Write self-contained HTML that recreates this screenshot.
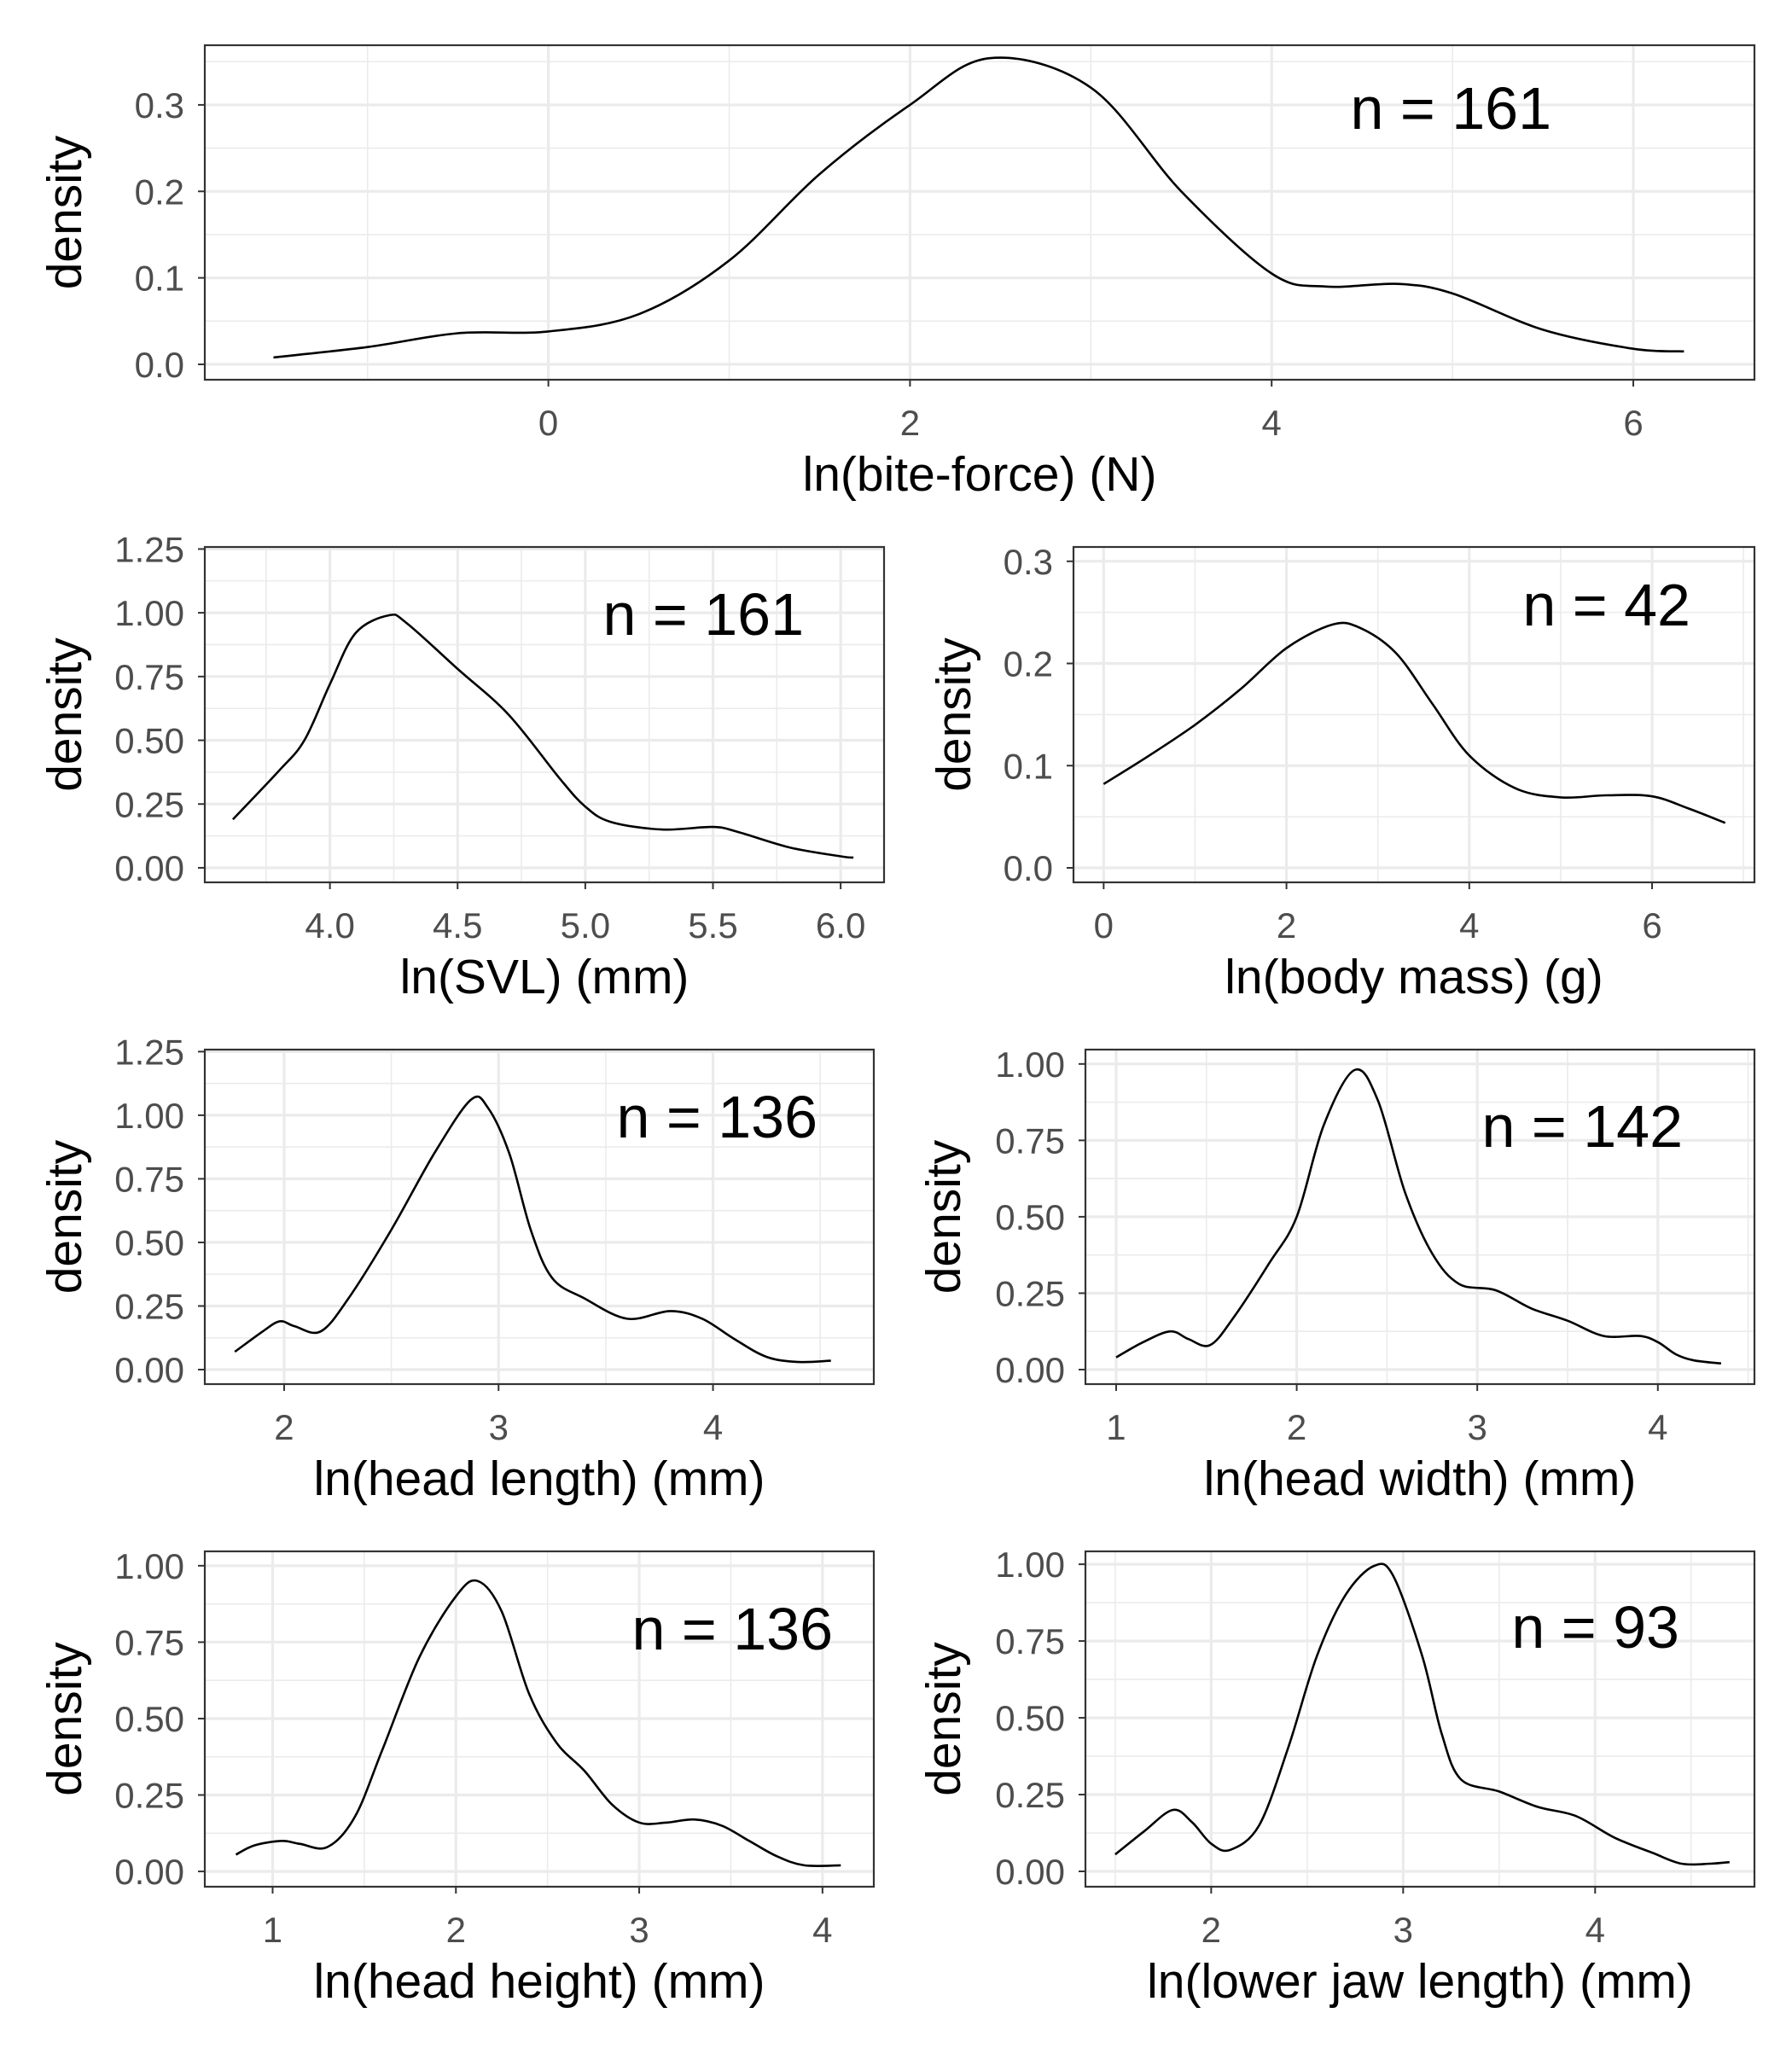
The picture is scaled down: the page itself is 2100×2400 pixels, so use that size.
<!DOCTYPE html>
<html><head><meta charset="utf-8"><style>
html,body{margin:0;padding:0;background:#fff;}
svg{display:block;font-family:"Liberation Sans",sans-serif;}
</style></head><body>
<svg id="fig" width="2100" height="2400" viewBox="0 0 2100 2400" xmlns="http://www.w3.org/2000/svg"></svg>
<script>
// ---- data ----
const biteX = [-1.52,-1,-0.5,0,0.5,1,1.5,2,2.44,3,3.5,4,4.3,4.7,5,5.5,6,6.28];
const biteY = [0.008,0.02,0.036,0.038,0.058,0.12,0.22,0.30,0.354,0.32,0.2,0.105,0.09,0.093,0.082,0.04,0.018,0.015];
const svlX = [3.62,3.8,3.9,4.0,4.1,4.23,4.3,4.5,4.7,4.9,5.0,5.1,5.3,5.5,5.6,5.8,6.0,6.05];
const svlY = [0.19,0.38,0.5,0.72,0.92,0.99,0.96,0.78,0.6,0.35,0.24,0.18,0.15,0.16,0.14,0.08,0.045,0.04];
const massX = [0,0.5,1,1.5,2,2.5,2.8,3.2,3.6,4,4.5,5,5.5,6,6.4,6.8];
const massY = [0.082,0.11,0.14,0.175,0.215,0.238,0.235,0.21,0.16,0.11,0.078,0.069,0.071,0.07,0.058,0.044];
const hlX = [1.77,1.9,1.98,2.05,2.17,2.3,2.5,2.7,2.87,2.95,3.05,3.15,3.25,3.4,3.6,3.8,3.95,4.1,4.25,4.4,4.55];
const hlY = [0.07,0.15,0.19,0.17,0.15,0.28,0.55,0.85,1.06,1.03,0.85,0.55,0.36,0.28,0.2,0.23,0.2,0.12,0.05,0.03,0.035];
const hwX = [1.0,1.15,1.3,1.4,1.52,1.65,1.85,2.0,2.15,2.32,2.45,2.6,2.75,2.9,3.1,3.3,3.5,3.7,3.9,4.0,4.1,4.2,4.35];
const hwY = [0.04,0.09,0.125,0.10,0.08,0.17,0.35,0.5,0.8,0.98,0.88,0.58,0.38,0.28,0.26,0.2,0.16,0.11,0.11,0.09,0.05,0.03,0.02];
const hhX = [0.8,0.9,1.05,1.15,1.3,1.45,1.6,1.8,2.0,2.12,2.25,2.4,2.55,2.7,2.85,3.0,3.15,3.3,3.45,3.6,3.75,3.9,4.1];
const hhY = [0.055,0.085,0.10,0.09,0.08,0.18,0.4,0.7,0.9,0.95,0.85,0.58,0.42,0.33,0.22,0.16,0.16,0.17,0.15,0.1,0.05,0.02,0.02];
const jawX = [1.5,1.65,1.8,1.9,2.0,2.1,2.25,2.4,2.55,2.7,2.85,2.95,3.1,3.2,3.3,3.5,3.7,3.9,4.1,4.3,4.45,4.6,4.7];
const jawY = [0.055,0.13,0.2,0.16,0.09,0.07,0.15,0.4,0.7,0.9,0.995,0.96,0.7,0.45,0.3,0.26,0.21,0.18,0.11,0.06,0.025,0.025,0.03];
const xTicks1 = [0,2,4,6], yTicks1 = [0,0.1,0.2,0.3];
const xTicks2 = [4.0,4.5,5.0,5.5,6.0], yTicks2 = [0,0.25,0.5,0.75,1,1.25];
const xTicks3 = [0,2,4,6], yTicks3 = [0,0.1,0.2,0.3];
const xTicks4 = [2,3,4], yTicks4 = [0,0.25,0.5,0.75,1,1.25];
const xTicks5 = [1,2,3,4], yTicks5 = [0,0.25,0.5,0.75,1];
const xTicks6 = [1,2,3,4], yTicks6 = [0,0.25,0.5,0.75,1];
const xTicks7 = [2,3,4], yTicks7 = [0,0.25,0.5,0.75,1];

const NS = "http://www.w3.org/2000/svg";
const svg = document.getElementById("fig");
function mk(tag, attrs, parent){const e=document.createElementNS(NS,tag);for(const k in attrs)e.setAttribute(k,attrs[k]);(parent||svg).appendChild(e);return e;}

function smoothPath(pts){
  let d = "M"+pts[0][0].toFixed(1)+","+pts[0][1].toFixed(1);
  for(let i=0;i<pts.length-1;i++){
    const p0=pts[Math.max(0,i-1)], p1=pts[i], p2=pts[i+1], p3=pts[Math.min(pts.length-1,i+2)];
    const c1x=p1[0]+(p2[0]-p0[0])/6, c1y=p1[1]+(p2[1]-p0[1])/6;
    const c2x=p2[0]-(p3[0]-p1[0])/6, c2y=p2[1]-(p3[1]-p1[1])/6;
    d += "C"+c1x.toFixed(1)+","+c1y.toFixed(1)+" "+c2x.toFixed(1)+","+c2y.toFixed(1)+" "+p2[0].toFixed(1)+","+p2[1].toFixed(1);
  }
  return d;
}

function panel(cfg){
  const g = mk("g",{});
  
  
  const {L,R,T,B,xmin,xmax,ymin,ymax} = cfg;
  const sx = v => L + (v-xmin)/(xmax-xmin)*(R-L);
  const sy = v => B - (v-ymin)/(ymax-ymin)*(B-T);
  const yfmt = cfg.yfmt, xfmt = cfg.xfmt;
  const dx = cfg.xt[1]-cfg.xt[0], dy = cfg.yt[1]-cfg.yt[0];
  for(let v=cfg.xt[0]-dx/2; v<=xmax; v+=dx){ if(v>=xmin){ const l=mk("line",{x1:sx(v),x2:sx(v),y1:T,y2:B,stroke:"#EBEBEB","stroke-width":1.6},g);  } }
  for(let v=cfg.yt[0]-dy/2; v<=ymax; v+=dy){ if(v>=ymin){ const l=mk("line",{x1:L,x2:R,y1:sy(v),y2:sy(v),stroke:"#EBEBEB","stroke-width":1.6},g);  } }
  cfg.xt.forEach(v=>{ const l=mk("line",{x1:sx(v),x2:sx(v),y1:T,y2:B,stroke:"#EBEBEB","stroke-width":3.2},g);  
    const t=mk("line",{x1:sx(v),x2:sx(v),y1:B,y2:B+8,stroke:"#333","stroke-width":2},g);  
    const tx=mk("text",{x:sx(v),y:B+65,"font-size":42,fill:"#4D4D4D","text-anchor":"middle"},g); tx.textContent=xfmt(v);  });
  cfg.yt.forEach(v=>{ const l=mk("line",{x1:L,x2:R,y1:sy(v),y2:sy(v),stroke:"#EBEBEB","stroke-width":3.2},g);  
    const t=mk("line",{x1:L-8,x2:L,y1:sy(v),y2:sy(v),stroke:"#333","stroke-width":2},g);  
    const tx=mk("text",{x:L-24,y:sy(v)+15,"font-size":42,fill:"#4D4D4D","text-anchor":"end"},g); tx.textContent=yfmt(v);  });
  const pts = cfg.xs.map((x,i)=>[sx(x), sy(cfg.ys[i])]);
  const p = mk("path",{d:smoothPath(pts),fill:"none",stroke:"#000","stroke-width":2.6,"stroke-linejoin":"round"},g);
  
  
  const r = mk("rect",{x:L,y:T,width:R-L,height:B-T,fill:"none",stroke:"#333","stroke-width":2.2},g);
  
  
  const xt = mk("text",{x:(L+R)/2,y:B+130,"font-size":57,fill:"#000","text-anchor":"middle"},g);
  xt.textContent = cfg.xlab;
  
  
  const yt = mk("text",{x:0,y:0,"font-size":57,fill:"#000","text-anchor":"middle",transform:`translate(${cfg.ylx},${(T+B)/2}) rotate(-90)`},g);
  yt.textContent = "density";
  
  
  const nt = mk("text",{x:cfg.nx,y:cfg.ny,"font-size":70,fill:"#000","text-anchor":"end"},g);
  nt.textContent = cfg.n;
  
  
}
const f1 = v=>v.toFixed(1), f2=v=>v.toFixed(2), f0=v=>String(v);
panel({name:"bite-force-panel",L:240,R:2056,T:53,B:445,xmin:-1.9,xmax:6.67,ymin:-0.0178,ymax:0.369,xt:xTicks1,yt:yTicks1,xs:biteX,ys:biteY,xfmt:f0,yfmt:f1,xlab:"ln(bite-force) (N)",n:"n = 161",nx:1818,ny:151,ylx:95});
panel({name:"svl-panel",L:240,R:1036,T:641,B:1034,xmin:3.51,xmax:6.17,ymin:-0.057,ymax:1.258,xt:xTicks2,yt:yTicks2,xs:svlX,ys:svlY,xfmt:f1,yfmt:f2,xlab:"ln(SVL) (mm)",n:"n = 161",nx:942,ny:744,ylx:95});
panel({name:"body-mass-panel",L:1258,R:2056,T:641,B:1034,xmin:-0.33,xmax:7.12,ymin:-0.0142,ymax:0.314,xt:xTicks3,yt:yTicks3,xs:massX,ys:massY,xfmt:f0,yfmt:f1,xlab:"ln(body mass) (g)",n:"n = 42",nx:1981,ny:733,ylx:1137});
panel({name:"head-length-panel",L:240,R:1024,T:1230,B:1622,xmin:1.63,xmax:4.75,ymin:-0.057,ymax:1.258,xt:xTicks4,yt:yTicks4,xs:hlX,ys:hlY,xfmt:f0,yfmt:f2,xlab:"ln(head length) (mm)",n:"n = 136",nx:958,ny:1333,ylx:95});
panel({name:"head-width-panel",L:1272,R:2056,T:1230,B:1622,xmin:0.83,xmax:4.535,ymin:-0.0475,ymax:1.047,xt:xTicks5,yt:yTicks5,xs:hwX,ys:hwY,xfmt:f0,yfmt:f2,xlab:"ln(head width) (mm)",n:"n = 142",nx:1972,ny:1344,ylx:1125});
panel({name:"head-height-panel",L:240,R:1024,T:1818,B:2211,xmin:0.63,xmax:4.28,ymin:-0.05,ymax:1.047,xt:xTicks6,yt:yTicks6,xs:hhX,ys:hhY,xfmt:f0,yfmt:f2,xlab:"ln(head height) (mm)",n:"n = 136",nx:976,ny:1933,ylx:95});
panel({name:"lower-jaw-panel",L:1272,R:2056,T:1818,B:2211,xmin:1.345,xmax:4.83,ymin:-0.05,ymax:1.042,xt:xTicks7,yt:yTicks7,xs:jawX,ys:jawY,xfmt:f0,yfmt:f2,xlab:"ln(lower jaw length) (mm)",n:"n = 93",nx:1968,ny:1931,ylx:1125});
</script>
</body></html>
